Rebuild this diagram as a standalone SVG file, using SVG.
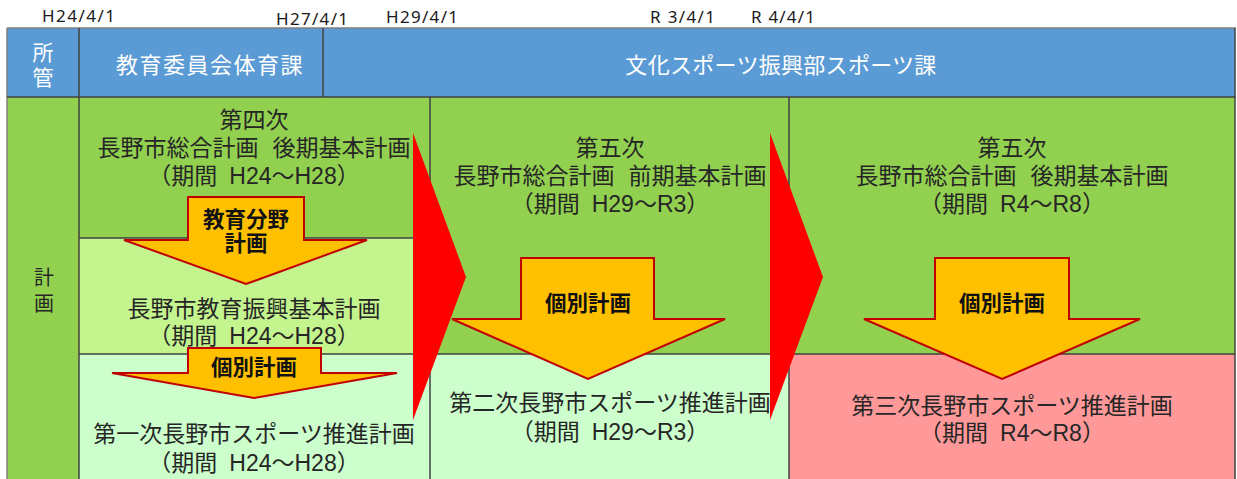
<svg xmlns="http://www.w3.org/2000/svg" width="1237" height="479" viewBox="0 0 1237 479">
<style>
text{font-family:"Liberation Sans","Noto Sans CJK JP",sans-serif;}
.date{font-family:"Noto Sans","Liberation Sans",sans-serif;font-size:17px;fill:#1a1a1a;}
.hd{font-size:22px;fill:#ffffff;text-anchor:middle;}
.bt{font-size:23px;fill:#262626;text-anchor:middle;}
.at{font-size:21.5px;font-weight:bold;fill:#111111;text-anchor:middle;}
.ln{stroke:#404040;stroke-width:1.5;fill:none;}
.red{fill:#FF0000;}
.org{fill:#FFC000;stroke:#C00000;stroke-width:2;stroke-linejoin:miter;}
</style>
<rect x="0" y="0" width="1237" height="479" fill="#ffffff"/>
<g id="dates">
<text class="date" x="42" y="21.5" textLength="73" lengthAdjust="spacing">H24/4/1</text>
<text class="date" x="276" y="25" textLength="72" lengthAdjust="spacing">H27/4/1</text>
<text class="date" x="386" y="23" textLength="72" lengthAdjust="spacing">H29/4/1</text>
<text class="date" x="650" y="23" textLength="65" lengthAdjust="spacing">R 3/4/1</text>
<text class="date" x="751" y="23" textLength="64" lengthAdjust="spacing">R 4/4/1</text>
</g>
<g id="header">
<rect x="7" y="28" width="1228" height="69" fill="#5B9BD5"/>
<line x1="7" y1="28" x2="1236" y2="28" stroke="#7F7F7F" stroke-width="1.5"/>
<line class="ln" x1="79" y1="28" x2="79" y2="97"/>
<line class="ln" x1="323" y1="28" x2="323" y2="97"/>
<line class="ln" x1="1235" y1="28" x2="1235" y2="97"/>
<line x1="7" y1="28" x2="7" y2="97" stroke="#7F7F7F" stroke-width="1.5"/>
</g>
<g id="node-shokan">
<text class="hd" style="font-size:21px"><tspan x="43" y="60">所</tspan><tspan x="43" y="85">管</tspan></text>
</g>
<g id="node-kyouiku">
<text class="hd" x="210" y="73" style="letter-spacing:1.5px">教育委員会体育課</text>
</g>
<g id="node-bunka">
<text class="hd" x="781" y="73" style="letter-spacing:0.3px">文化スポーツ振興部スポーツ課</text>
</g>
<g id="node-keikaku">
<rect x="7" y="97" width="72" height="382" fill="#92D050"/>
<text class="hd" style="fill:#262626;font-size:20px"><tspan x="44" y="285">計</tspan><tspan x="44" y="311">画</tspan></text>
</g>
<g id="node-c1r1">
<rect x="79" y="97" width="351" height="141" fill="#92D050"/>
<text class="bt"><tspan x="254" y="128">第四次</tspan><tspan x="254" y="156">長野市総合計画</tspan><tspan dx="14">後期基本計画</tspan><tspan x="254" y="184">（期間</tspan><tspan dx="12">H24～H28）</tspan></text>
</g>
<g id="node-c1r2">
<rect x="79" y="238" width="351" height="116" fill="#C3F48E"/>
<text class="bt"><tspan x="254" y="317">長野市教育振興基本計画</tspan><tspan x="254" y="344">（期間</tspan><tspan dx="12">H24～H28）</tspan></text>
</g>
<g id="node-c1r3">
<rect x="79" y="354" width="351" height="125" fill="#CCFFCC"/>
<text class="bt"><tspan x="254" y="442">第一次長野市スポーツ推進計画</tspan><tspan x="254" y="471">（期間</tspan><tspan dx="12">H24～H28）</tspan></text>
</g>
<g id="node-c2r1">
<rect x="430" y="97" width="359" height="257" fill="#92D050"/>
<text class="bt"><tspan x="610" y="156">第五次</tspan><tspan x="610" y="184">長野市総合計画</tspan><tspan dx="14">前期基本計画</tspan><tspan x="610" y="212">（期間</tspan><tspan dx="12">H29～R3）</tspan></text>
</g>
<g id="node-c2r2">
<rect x="430" y="354" width="359" height="125" fill="#CCFFCC"/>
<text class="bt"><tspan x="610" y="411">第二次長野市スポーツ推進計画</tspan><tspan x="610" y="440">（期間</tspan><tspan dx="12">H29～R3）</tspan></text>
</g>
<g id="node-c3r1">
<rect x="789" y="97" width="446" height="257" fill="#92D050"/>
<text class="bt"><tspan x="1012" y="156">第五次</tspan><tspan x="1012" y="184">長野市総合計画</tspan><tspan dx="14">後期基本計画</tspan><tspan x="1012" y="212">（期間</tspan><tspan dx="12">R4～R8）</tspan></text>
</g>
<g id="node-c3r2">
<rect x="789" y="354" width="446" height="125" fill="#FF9999"/>
<text class="bt"><tspan x="1012" y="414">第三次長野市スポーツ推進計画</tspan><tspan x="1012" y="441">（期間</tspan><tspan dx="12">R4～R8）</tspan></text>
</g>
<g id="grid">
<line x1="7" y1="97" x2="7" y2="479" stroke="#7F7F7F" stroke-width="1.5"/>
<line class="ln" x1="7" y1="97" x2="1236" y2="97"/>
<line class="ln" x1="79" y1="97" x2="79" y2="479"/>
<line class="ln" x1="430" y1="97" x2="430" y2="479"/>
<line class="ln" x1="789" y1="97" x2="789" y2="479"/>
<line class="ln" x1="1235" y1="97" x2="1235" y2="479"/>
<line class="ln" x1="79" y1="238" x2="430" y2="238"/>
<line class="ln" x1="79" y1="354" x2="1235" y2="354"/>
</g>
<g id="connectors">
<polygon class="red" points="413,133 466,277 413,420"/>
<polygon class="red" points="770,133 823,277 770,420"/>
<polygon class="org" points="188,197 304,197 304,240 367,240 246,284 124,240 188,240"/>
<polygon class="org" points="188,348 321,348 321,373 397,373 254,398 112,373 188,373"/>
<polygon class="org" points="521,258 654,258 654,319 725,319 588,379 452,319 521,319"/>
<polygon class="org" points="935,258 1069,258 1069,319 1140,319 1002,379 864,319 935,319"/>
<text class="at"><tspan x="246" y="227">教育分野</tspan><tspan x="246" y="251">計画</tspan></text>
<text class="at" x="254" y="375">個別計画</text>
<text class="at" x="588" y="311">個別計画</text>
<text class="at" x="1002" y="311">個別計画</text>
</g>
</svg>
